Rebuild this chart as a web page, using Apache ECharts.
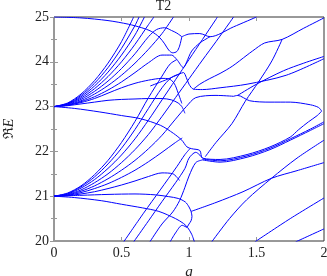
<!DOCTYPE html>
<html><head><meta charset="utf-8">
<script src="https://cdn.jsdelivr.net/npm/echarts@6/dist/echarts.min.js"></script>
<style>html,body{margin:0;padding:0;background:#fff}#c{width:327px;height:276px}</style>
</head><body><div id="c"></div>
<script>
const xTicks = [0, 0.5, 1, 1.5, 2];
const yTicks = [20, 21, 22, 23, 24, 25];
// level curves: [g, Re E]
const top25 = [[0,25],[0.2,24.98],[0.4,24.92],[0.55,24.84],[0.65,24.76],[0.72,24.68],[0.78,24.55],[0.82,24.4],[0.85,24.26],[0.88,24.2],[0.91,24.23],[0.93,24.35],[0.947,24.56]];
const dip = [[0.947,24.56],[1.0,24.62],[1.08,24.63],[1.156,24.56],[1.33,24.78],[1.5,25]];
const f23a = [[0,23],[0.1,23.08],[0.2,23.28],[0.3,23.58],[0.4,23.97],[0.5,24.45],[0.59,25]];
const f23b = [[0,23],[0.1,23.07],[0.2,23.25],[0.3,23.52],[0.4,23.87],[0.5,24.3],[0.6,24.81],[0.63,25]];
const f23c = [[0,23],[0.1,23.06],[0.2,23.22],[0.3,23.46],[0.4,23.77],[0.5,24.15],[0.6,24.6],[0.67,25]];
const f23d = [[0,23],[0.1,23.06],[0.2,23.19],[0.3,23.4],[0.4,23.67],[0.5,24.0],[0.6,24.39],[0.7,24.83],[0.74,25]];
const f23e = [[0,23],[0.1,23.05],[0.2,23.16],[0.3,23.34],[0.4,23.57],[0.5,23.85],[0.6,24.18],[0.7,24.56],[0.76,24.72],[0.82,24.76],[0.87,24.7],[0.91,24.64],[0.947,24.56]];
const f23f = [[0,23],[0.1,23.04],[0.2,23.13],[0.3,23.28],[0.4,23.47],[0.5,23.7],[0.6,23.97],[0.7,24.28],[0.8,24.63],[0.885,25]];
const f23g = [[0,23],[0.1,23.03],[0.2,23.11],[0.3,23.22],[0.4,23.37],[0.5,23.55],[0.6,23.76],[0.7,23.98],[0.8,24.15],[0.87,24.15],[0.91,24.05],[0.959,23.87],[0.983,24.0],[1.02,24.24],[1.08,24.42],[1.156,24.56]];
const f23h = [[0,23],[0.1,23.03],[0.2,23.09],[0.3,23.18],[0.4,23.3],[0.5,23.42],[0.6,23.52],[0.7,23.59],[0.8,23.63],[0.85,23.62],[0.89,23.52],[0.92,23.3],[0.947,23.07]];
const f23i = [[0,23],[0.1,23.02],[0.2,23.06],[0.3,23.1],[0.4,23.14],[0.5,23.16],[0.6,23.17],[0.7,23.18],[0.8,23.18],[0.87,23.15],[0.92,23.08],[0.947,23.0],[0.97,22.85]];
const f23j = [[0,23],[0.15,22.96],[0.34,22.88],[0.5,22.8],[0.64,22.73],[0.79,22.58],[0.886,22.4],[0.947,22.25],[0.985,22.1],[1.02,22.06],[1.08,22.02],[1.1,21.85],[1.23,21.82],[1.43,21.93],[1.6,22.1],[1.75,22.32],[1.81,22.48],[1.885,22.66],[1.95,22.8],[1.983,22.9]];
const peak = [[0.713,23.46],[0.84,23.61],[0.93,23.73],[0.959,23.76],[0.98,23.65],[1.0,23.5],[1.033,23.39],[1.1,23.38],[1.23,23.42],[1.43,23.5],[1.72,23.7],[2.0,24.07]];
const upperBranch = [[1.033,23.39],[1.08,23.5],[1.15,23.62],[1.23,23.74],[1.32,23.9],[1.43,24.15],[1.47,24.24],[1.56,24.42],[1.69,24.5],[1.85,24.75],[2.0,24.98]];
const lowerBranch = [[1.12,21.88],[1.2,22.2],[1.318,22.62],[1.417,23.12],[1.515,23.55],[1.614,24.02],[1.69,24.5]];
const curve231 = [[1.33,23.23],[1.36,23.25],[1.45,23.13],[1.6,23.1],[1.75,23.1],[1.9,23.04],[1.96,22.98],[1.983,22.9]];
const toEdge24 = [[1.355,23.24],[1.5,23.5],[1.7,23.8],[1.85,23.97],[2.0,24.12]];
const triple2 = [[1.1,21.83],[1.23,21.79],[1.43,21.9],[1.6,22.07],[1.75,22.28],[1.9,22.5],[2.0,22.66]];
const triple3 = [[1.1,21.81],[1.23,21.76],[1.43,21.87],[1.6,22.04],[1.75,22.25],[1.9,22.47],[2.0,22.62]];
const f21a = [[0,21],[0.1,21.07],[0.2,21.23],[0.3,21.48],[0.4,21.8],[0.5,22.2],[0.6,22.67],[0.7,23.2],[0.8,23.68],[0.86,23.95],[0.91,24.05]];
const f21b = [[0,21],[0.1,21.06],[0.2,21.21],[0.3,21.43],[0.4,21.72],[0.5,22.07],[0.6,22.49],[0.7,22.96],[0.8,23.42],[0.87,23.65],[0.93,23.73]];
const f21c = [[0,21],[0.1,21.05],[0.2,21.18],[0.3,21.37],[0.4,21.62],[0.5,21.92],[0.6,22.28],[0.7,22.7],[0.8,23.15],[0.9,23.6],[1.0,24.05],[1.1,24.5],[1.2,24.95],[1.21,25]];
const f21d = [[0,21],[0.1,21.04],[0.2,21.14],[0.3,21.3],[0.4,21.5],[0.5,21.75],[0.6,22.04],[0.7,22.38],[0.8,22.78],[0.9,23.2],[1.0,23.62],[1.1,24.04],[1.2,24.45],[1.3,24.87],[1.33,25]];
const f21e = [[0,21],[0.1,21.03],[0.2,21.11],[0.3,21.23],[0.4,21.39],[0.5,21.58],[0.6,21.8],[0.7,22.06],[0.8,22.36],[0.9,22.72],[0.98,23.0],[1.05,23.2],[1.2,23.25],[1.33,23.23]];
const f21f = [[0,21],[0.1,21.02],[0.2,21.08],[0.3,21.17],[0.4,21.28],[0.5,21.42],[0.6,21.58],[0.7,21.77],[0.8,21.98],[0.9,22.2],[0.95,22.3]];
const f21g = [[0,21],[0.1,21.01],[0.2,21.05],[0.3,21.1],[0.4,21.17],[0.5,21.25],[0.6,21.34],[0.7,21.44],[0.8,21.52],[0.88,21.5],[0.93,21.35]];
const f21flat = [[0,21],[0.2,21.02],[0.4,21.04],[0.6,21.05],[0.75,21.03],[0.85,20.99],[0.92,20.95],[0.973,20.87],[1.0,20.76],[1.015,20.66],[1.022,20.55],[1.015,20.45],[1.0,20.38],[0.985,20.3]];
const f21desc = [[0,21],[0.15,20.97],[0.35,20.9],[0.5,20.82],[0.654,20.74],[0.777,20.66],[0.9,20.5],[0.96,20.39],[0.99,20.3],[1.02,20.15],[1.04,19.98]];
const right21 = [[1.015,20.66],[1.2,20.86],[1.4,21.1],[1.611,21.4],[1.8,21.57],[2.0,21.75]];
const rise1 = [[0.516,19.98],[0.663,20.62],[0.787,21.14],[0.91,21.66],[0.97,21.93],[1.01,22.07]];
const rise2 = [[0.59,19.98],[0.7,20.45],[0.8,20.88],[0.9,21.3],[0.97,21.62],[1.0,21.85],[1.05,21.98],[1.1,21.85]];
const rise3 = [[0.71,19.98],[0.8,20.38],[0.88,20.65],[0.93,20.9],[0.97,21.2],[1.0,21.45],[1.05,21.75],[1.1,21.81]];
const rise4 = [[0.86,19.98],[0.9,20.18],[0.95,20.35],[0.985,20.3]];
const rise5 = [[1.168,19.98],[1.3,20.5],[1.427,20.92],[1.611,21.4],[1.8,21.85],[2.0,22.25]];
const rise6 = [[1.488,19.98],[1.75,20.5],[2.0,20.96]];
const rise7 = [[1.79,19.98],[2.0,20.27]];

const curves = [top25, dip, f23a, f23b, f23c, f23d, f23e, f23f, f23g, f23h, f23i, f23j, peak, upperBranch, lowerBranch, curve231, toEdge24, triple2, triple3,
  f21a, f21b, f21c, f21d, f21e, f21f, f21g, f21flat, f21desc, right21, rise1, rise2, rise3, rise4, rise5, rise6, rise7];

const chart = echarts.init(document.getElementById('c'), null, {renderer: 'canvas'});
const tfont = 'Liberation Serif';
const series = curves.map(d => ({
  type: 'line', data: d, showSymbol: false, smooth: 0.3, clip: true,
  lineStyle: {color: '#0000ff', width: 1}, emphasis: {disabled: true}, animation: false
}));
chart.setOption({
  animation: false,
  textStyle: {fontFamily: tfont},
  title: {text: 'T2', left: 'center', top: -1, padding: 0, textStyle: {fontFamily: tfont, fontSize: 14, fontWeight: 'normal', color: '#222'}},
  grid: {left: 54, right: 3, top: 17, bottom: 35, show: true, borderColor: '#333', borderWidth: 1, outerBoundsMode: 'none', containLabel: false},
  xAxis: [{
    type: 'value', min: 0, max: 2, interval: 0.5,
    axisLine: {show: false}, splitLine: {show: false},
    axisTick: {inside: true, length: 4, lineStyle: {color: '#999'}},
    axisLabel: {margin: 5, fontFamily: tfont, fontSize: 14, color: '#222', formatter: v => xTicks.includes(v) ? String(v) : ''},
    name: 'g', nameLocation: 'middle', nameGap: 18, nameTextStyle: {fontFamily: tfont, fontSize: 15, fontStyle: 'italic', color: '#222'}
  }, {
    type: 'value', min: 0, max: 2, interval: 0.5, position: 'top',
    axisLine: {show: false}, splitLine: {show: false}, axisLabel: {show: false},
    axisTick: {inside: true, length: 4, lineStyle: {color: '#999'}}
  }],
  yAxis: [{
    type: 'value', min: 20, max: 25, interval: 1,
    axisLine: {show: false}, splitLine: {show: false},
    axisTick: {inside: true, length: 4, lineStyle: {color: '#999'}},
    minorTick: {show: true, splitNumber: 2, length: 3, lineStyle: {color: '#999'}},
    axisLabel: {margin: 5, fontFamily: tfont, fontSize: 14, color: '#222', formatter: v => yTicks.includes(v) ? String(v) : ''},
    name: 'ℜ{i|E}', nameLocation: 'middle', nameGap: 38, nameRotate: 90,
    nameTextStyle: {fontFamily: tfont, fontSize: 14, color: '#222', rich: {i: {fontFamily: tfont, fontSize: 14, fontStyle: 'italic', color: '#222'}}}
  }, {
    type: 'value', min: 20, max: 25, interval: 1, position: 'right',
    axisLine: {show: false}, splitLine: {show: false}, axisLabel: {show: false},
    axisTick: {inside: true, length: 4, lineStyle: {color: '#999'}},
    minorTick: {show: true, splitNumber: 2, length: 3, lineStyle: {color: '#999'}}
  }],
  series: series
});
</script></body></html>
